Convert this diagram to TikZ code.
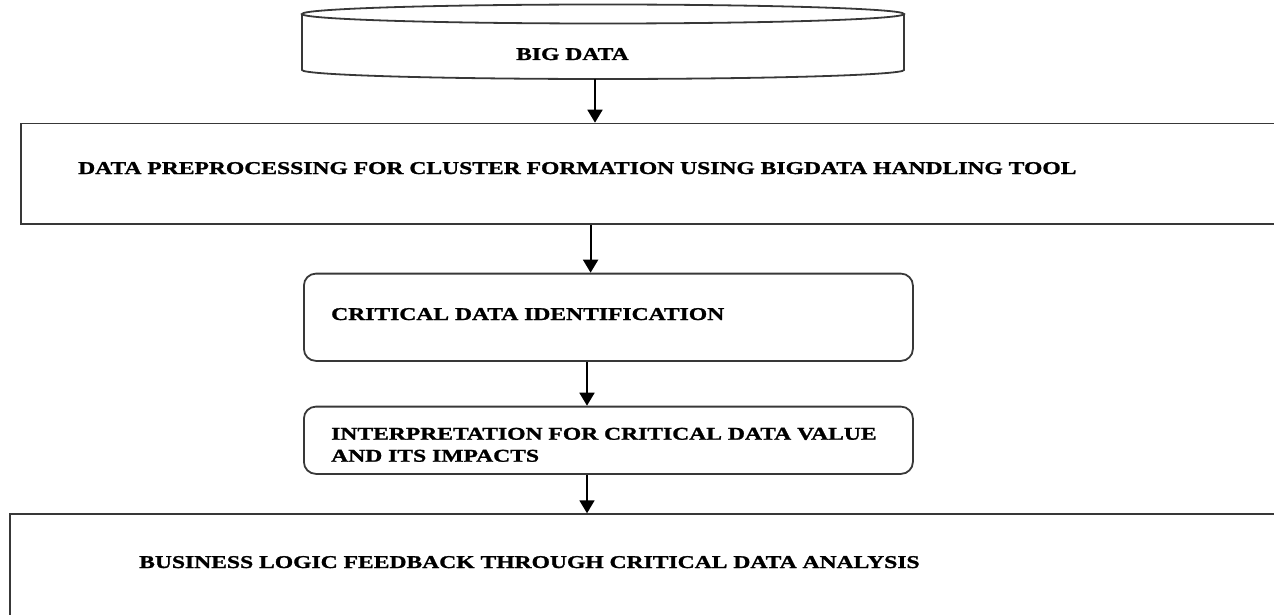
\documentclass[tikz,border=0pt]{standalone}
\usepackage{fontspec}
\setmainfont{Liberation Serif}[BoldFont={Liberation Serif Bold}, BoldFeatures={FakeBold=1.3}, FakeStretch=1.31]
\usetikzlibrary{arrows.meta}
\begin{document}
\begin{tikzpicture}[x=1pt,y=1pt,
  frame/.style={draw=black!78, line width=1.8pt, fill=white},
  roundframe/.style={frame, rounded corners=12pt},
  label/.style={font=\bfseries\fontsize{18}{22}\selectfont, inner sep=0pt, anchor=base west, align=left},
  flow/.style={draw=black, line width=1.8pt, -{Triangle[length=13pt,width=15pt]}}]
\useasboundingbox (0,0) rectangle (1274,-615);

% storage cylinder at the top
\draw[frame] (302,-14) -- (302,-70) arc[start angle=180, end angle=360, x radius=301, y radius=9] -- (904,-14);
\draw[frame] (603,-14) ellipse[x radius=301, y radius=9.5];
\node[label] (bigdata) at (516,-60) {BIG DATA};
\coordinate (cylbottom) at (595,-79);

% processing stages
\node[frame, anchor=north west, minimum width=1280, minimum height=100.5, inner sep=0pt] (prep) at (20,-122.7) {};
\node[label] (preptext) at (78,-174) {DATA PREPROCESSING FOR CLUSTER FORMATION USING BIGDATA HANDLING TOOL};

\node[roundframe, anchor=north west, minimum width=609, minimum height=87.3, inner sep=0pt] (crit) at (303,-272.7) {};
\node[label] (crittext) at (331,-320) {CRITICAL DATA IDENTIFICATION};

\node[roundframe, anchor=north west, minimum width=609, minimum height=67.3, inner sep=0pt] (interp) at (303,-405.7) {};
\node[label] (interptext) at (331,-461.7) {INTERPRETATION FOR CRITICAL DATA VALUE\\AND ITS IMPACTS};

\node[frame, anchor=north west, minimum width=1290, minimum height=130, inner sep=0pt] (biz) at (9.3,-513.3) {};
\node[label] (biztext) at (139,-568) {BUSINESS LOGIC FEEDBACK THROUGH CRITICAL DATA ANALYSIS};

% connectors
\draw[flow] (cylbottom) -- (cylbottom |- prep.north);
\draw[flow] ([xshift=-4.4pt]prep.south -| cylbottom) -- ([xshift=-4.4pt]crit.north -| cylbottom);
\draw[flow] ([xshift=-8pt]crit.south -| cylbottom) -- ([xshift=-8pt]interp.north -| cylbottom);
\draw[flow] ([xshift=-8pt]interp.south -| cylbottom) -- ([xshift=-8pt]biz.north -| cylbottom);
\end{tikzpicture}
\end{document}
